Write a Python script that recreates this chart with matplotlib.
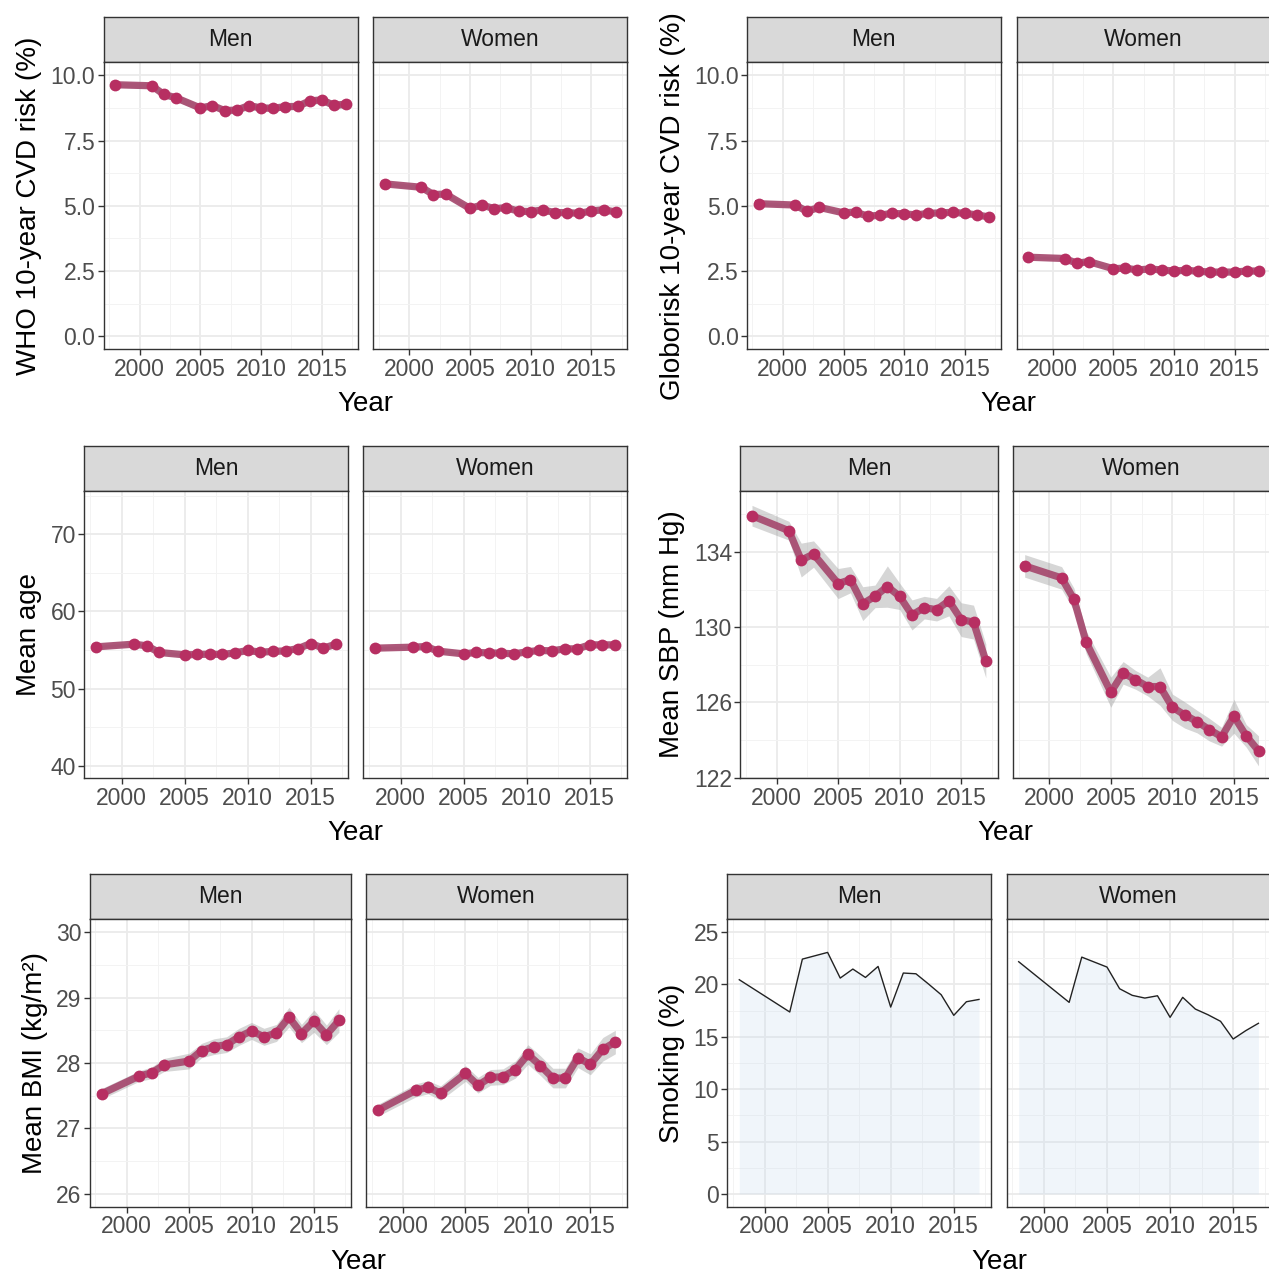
import matplotlib.pyplot as plt
import numpy as np

plt.rcParams['font.family'] = ['Liberation Sans', 'DejaVu Sans']

# survey years (no 2004; smoking also has no 2001)
years = [1998, 2001, 2002, 2003, 2005, 2006, 2007, 2008, 2009, 2010,
         2011, 2012, 2013, 2014, 2015, 2016, 2017]
smoke_years = [1998, 2002, 2003, 2005, 2006, 2007, 2008, 2009, 2010,
               2011, 2012, 2013, 2014, 2015, 2016, 2017]

sexes = ['Men', 'Women']

# WHO 10-year CVD risk (%)
who_men = [9.64, 9.60, 9.27, 9.14, 8.75, 8.84, 8.65, 8.67, 8.84, 8.75,
           8.74, 8.80, 8.81, 9.02, 9.06, 8.85, 8.90]
who_men_ci = [0.10, 0.10, 0.12, 0.12, 0.13, 0.12, 0.14, 0.13, 0.16, 0.13,
              0.12, 0.12, 0.12, 0.13, 0.15, 0.15, 0.16]
who_women = [5.84, 5.71, 5.43, 5.45, 4.90, 5.03, 4.89, 4.93, 4.79, 4.78,
             4.84, 4.74, 4.74, 4.71, 4.80, 4.85, 4.76]
who_women_ci = [0.08, 0.08, 0.09, 0.09, 0.09, 0.08, 0.08, 0.08, 0.08, 0.08,
                0.08, 0.08, 0.08, 0.08, 0.08, 0.09, 0.09]

# Globorisk 10-year CVD risk (%)
glob_men = [5.08, 5.03, 4.79, 4.94, 4.73, 4.76, 4.60, 4.64, 4.71, 4.69,
            4.65, 4.71, 4.73, 4.75, 4.71, 4.65, 4.57]
glob_men_ci = [0.06] * 17
glob_women = [3.03, 2.98, 2.80, 2.86, 2.59, 2.61, 2.54, 2.58, 2.54, 2.50,
              2.53, 2.49, 2.46, 2.46, 2.46, 2.50, 2.50]
glob_women_ci = [0.05] * 17

# mean age
age_men = [55.41, 55.76, 55.54, 54.68, 54.37, 54.42, 54.46, 54.42, 54.63, 54.94,
           54.72, 54.81, 54.89, 55.19, 55.84, 55.24, 55.76]
age_men_ci = [0.2] * 17
age_women = [55.24, 55.37, 55.45, 54.85, 54.50, 54.68, 54.63, 54.59, 54.50, 54.76,
             54.94, 54.89, 55.15, 55.15, 55.67, 55.67, 55.67]
age_women_ci = [0.2] * 17

# mean SBP (mm Hg)
sbp_men = [135.93, 135.13, 133.57, 133.89, 132.32, 132.53, 131.25, 131.64, 132.16, 131.64,
           130.65, 131.04, 130.93, 131.40, 130.40, 130.27, 128.21]
sbp_men_ci = [0.55, 0.5, 0.9, 0.7, 0.8, 0.7, 0.9, 0.6, 1.1, 0.7,
              0.8, 0.6, 0.6, 0.8, 0.9, 0.9, 0.9]
sbp_women = [133.26, 132.62, 131.48, 129.19, 126.54, 127.57, 127.20, 126.84, 126.84, 125.74,
             125.33, 124.98, 124.55, 124.17, 125.26, 124.22, 123.42]
sbp_women_ci = [0.6, 0.6, 0.6, 0.6, 0.8, 0.6, 0.5, 0.5, 1.0, 0.7,
                0.7, 0.6, 0.6, 0.5, 0.9, 0.6, 0.8]

# mean BMI (kg/m2)
bmi_men = [27.53, 27.80, 27.85, 27.97, 28.03, 28.19, 28.25, 28.28, 28.40, 28.49,
           28.40, 28.46, 28.70, 28.45, 28.64, 28.43, 28.65]
bmi_men_ci = [0.08, 0.08, 0.09, 0.10, 0.12, 0.11, 0.12, 0.12, 0.13, 0.13,
              0.13, 0.13, 0.15, 0.14, 0.17, 0.15, 0.18]
bmi_women = [27.28, 27.58, 27.63, 27.54, 27.84, 27.66, 27.78, 27.79, 27.90, 28.13,
             27.96, 27.77, 27.77, 28.08, 27.98, 28.21, 28.32]
bmi_women_ci = [0.09, 0.10, 0.10, 0.11, 0.12, 0.12, 0.12, 0.12, 0.13, 0.15,
                0.15, 0.15, 0.15, 0.15, 0.16, 0.18, 0.18]

# smoking (%)
smoke_men = [20.45, 17.37, 22.42, 23.06, 20.61, 21.47, 20.67, 21.72, 17.84,
             21.09, 21.02, 20.04, 19.02, 17.05, 18.35, 18.57]
smoke_women = [22.17, 18.29, 22.61, 21.66, 19.59, 18.96, 18.70, 18.92, 16.86,
               18.77, 17.65, 17.11, 16.48, 14.79, 15.59, 16.29]

W, H = 1269, 1273
fig = plt.figure(figsize=(W / 100, H / 100), dpi=100)


def px_axes(x0, x1, y0, y1):
    return fig.add_axes([x0 / W, 1 - y1 / H, (x1 - x0) / W, (y1 - y0) / H])


def facet_pair(xs, rows, ylabel, ylim, yticks, yminor, yfmt, draw):
    strip_top, panel_top, panel_bottom = rows
    for i, (x0, x1) in enumerate(xs):
        s = px_axes(x0, x1, strip_top, panel_top)
        s.set_facecolor('#d9d9d9')
        s.set_xticks([])
        s.set_yticks([])
        for sp in s.spines.values():
            sp.set_color('#333333')
            sp.set_linewidth(1.0)
        s.text(0.5, 0.5, sexes[i], ha='center', va='center', fontsize=16.5,
               color='#1a1a1a', transform=s.transAxes)

        ax = px_axes(x0, x1, panel_top, panel_bottom)
        ax.set_xlim(1997.05, 2017.95)
        ax.set_ylim(*ylim)
        ax.set_xticks([2000, 2005, 2010, 2015])
        ax.set_xticks([1997.5, 2002.5, 2007.5, 2012.5, 2017.5], minor=True)
        ax.set_yticks(yticks)
        ax.set_yticks(yminor, minor=True)
        ax.set_yticklabels([yfmt.format(v) for v in yticks])
        ax.grid(which='major', color='#ebebeb', lw=1.3)
        ax.grid(which='minor', color='#f3f3f3', lw=0.7)
        ax.set_axisbelow(True)
        for sp in ax.spines.values():
            sp.set_color('#333333')
            sp.set_linewidth(1.0)
        ax.tick_params(which='major', length=4, width=1, color='#333333',
                       labelsize=16.5, labelcolor='#4d4d4d', pad=2)
        ax.tick_params(which='minor', length=0)
        if i == 0:
            ax.set_ylabel(ylabel, fontsize=20, labelpad=6)
        else:
            ax.tick_params(axis='y', which='both', left=False, labelleft=False)
        draw(ax, i)
    cx = (xs[0][0] + xs[1][1]) / 2
    fig.text(cx / W, 1 - (panel_bottom + 55) / H, 'Year', ha='center', va='center',
             fontsize=20)


def ribbon_plot(vals, cis):
    def draw(ax, i):
        y = np.array(vals[i])
        ci = np.array(cis[i])
        ax.fill_between(years, y - ci, y + ci, color='#999999', alpha=0.4, lw=0, zorder=2)
        ax.plot(years, y, color='#a4466c', lw=5.2, alpha=0.9, zorder=3,
                solid_joinstyle='round')
        ax.plot(years, y, 'o', color='#b72f62', ms=8.5, mec='none', zorder=4)
    return draw


def smoke_plot(ax, i):
    y = [smoke_men, smoke_women][i]
    ax.fill_between(smoke_years, 0, y, color='#c6dbef', alpha=0.25, lw=0, zorder=2)
    ax.plot(smoke_years, y, color='#222222', lw=1.0, zorder=3)


row1 = (17.3, 62.3, 349.3)
row2 = (445.7, 490.7, 778.3)
row3 = (874, 919, 1207)

risk_ticks = [0, 2.5, 5, 7.5, 10]
risk_minor = [1.25, 3.75, 6.25, 8.75]

facet_pair([(103.7, 357.7), (373.3, 627.3)], row1, 'WHO 10-year CVD risk (%)',
           (-0.5, 10.5), risk_ticks, risk_minor, '{:.1f}',
           ribbon_plot([who_men, who_women], [who_men_ci, who_women_ci]))
facet_pair([(747, 1000.7), (1016.7, 1270.4)], row1, 'Globorisk 10-year CVD risk (%)',
           (-0.5, 10.5), risk_ticks, risk_minor, '{:.1f}',
           ribbon_plot([glob_men, glob_women], [glob_men_ci, glob_women_ci]))
facet_pair([(84.3, 348), (363.3, 627)], row2, 'Mean age',
           (38.37, 75.65), [40, 50, 60, 70], [45, 55, 65, 75], '{:d}',
           ribbon_plot([age_men, age_women], [age_men_ci, age_women_ci]))
facet_pair([(740.3, 997.5), (1013, 1270.2)], row2, 'Mean SBP (mm Hg)',
           (121.96, 137.26), [122, 126, 130, 134], [124, 128, 132, 136], '{:d}',
           ribbon_plot([sbp_men, sbp_women], [sbp_men_ci, sbp_women_ci]))
facet_pair([(89.8, 350.8), (366.2, 627.2)], row3, 'Mean BMI (kg/m²)',
           (25.8, 30.2), [26, 27, 28, 29, 30], [26.5, 27.5, 28.5, 29.5], '{:d}',
           ribbon_plot([bmi_men, bmi_women], [bmi_men_ci, bmi_women_ci]))
facet_pair([(727.3, 991), (1006.7, 1270.4)], row3, 'Smoking (%)',
           (-1.25, 26.25), [0, 5, 10, 15, 20, 25], [2.5, 7.5, 12.5, 17.5, 22.5], '{:d}',
           smoke_plot)

fig.savefig('out.png', dpi=100)
